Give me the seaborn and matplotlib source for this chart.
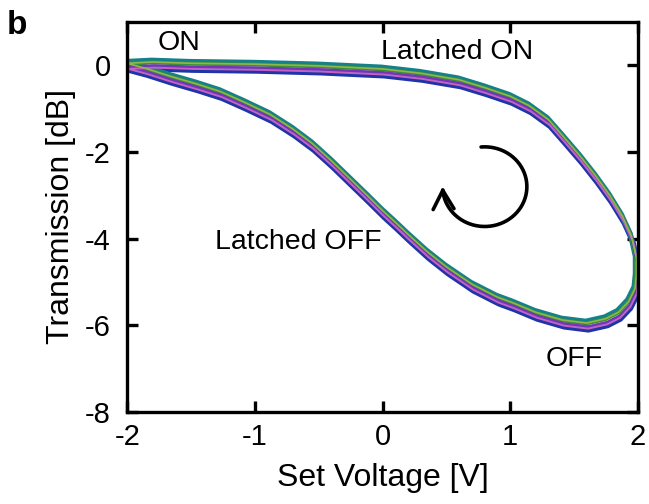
import numpy as np
import pandas as pd
import seaborn as sns
import matplotlib
matplotlib.use("Agg")
import matplotlib.pyplot as plt
from matplotlib.patches import FancyArrowPatch
from matplotlib.path import Path

# Hysteresis loop: upper branch swept -2 V -> +2 V, lower branch swept back
upper_v = [-2.00, -1.80, -1.50, -1.00, -0.50, 0.00, 0.30, 0.60, 0.80, 1.00, 1.15,
           1.30, 1.41, 1.55, 1.67, 1.78, 1.88, 1.95, 1.99]
upper_t = [0.00, 0.03, 0.00, -0.02, -0.06, -0.13, -0.23, -0.38, -0.56, -0.76, -0.98,
           -1.30, -1.67, -2.15, -2.60, -3.05, -3.53, -3.98, -4.50]
lower_v = [1.99, 1.98, 1.93, 1.85, 1.75, 1.60, 1.41, 1.20, 1.02, 0.90, 0.70, 0.50,
           0.35, 0.20, 0.10, 0.00, -0.12, -0.26, -0.40, -0.55, -0.70, -0.88, -1.08,
           -1.27, -1.45, -1.66, -1.85, -2.00]
lower_t = [-4.90, -5.20, -5.50, -5.75, -5.90, -6.00, -5.93, -5.75, -5.53, -5.40,
           -5.10, -4.70, -4.35, -3.95, -3.67, -3.40, -3.05, -2.65, -2.25, -1.85,
           -1.52, -1.18, -0.90, -0.65, -0.48, -0.30, -0.12, 0.00]

# Repeated sweeps: small shift of each cycle, its colour and line width
cycle_names = ["1", "2", "3", "4", "5", "6", "7"]
cycle_dv = [0.012, -0.010, -0.004, 0.006, 0.008, 0.010, -0.002]
cycle_dt = [-0.11, 0.09, 0.04, -0.05, -0.03, -0.08, 0.05]
cycle_colors = ["#1f34a6", "#16808a", "#3a8f3c", "#3444c0", "#7436b4", "#c462c4", "#8fb848"]
cycle_widths = [3.8, 3.8, 2.8, 2.2, 1.8, 1.4, 1.2]

loop_v = upper_v + lower_v
loop_t = upper_t + lower_t

rows = []
for name, dv, dt in zip(cycle_names, cycle_dv, cycle_dt):
    for i, (v, t) in enumerate(zip(loop_v, loop_t)):
        rows.append({"Set Voltage [V]": min(v + dv, 2.0), "Transmission [dB]": t + dt,
                     "cycle": name, "step": i})
df = pd.DataFrame(rows)

sns.set_theme(style="white")
plt.rcParams["font.family"] = ["Liberation Sans", "DejaVu Sans"]
plt.rcParams["text.color"] = "black"
plt.rcParams["axes.labelcolor"] = "black"
plt.rcParams["xtick.color"] = "black"
plt.rcParams["ytick.color"] = "black"

fig = plt.figure(figsize=(6.49, 5.04), dpi=100)
ax = fig.add_axes([0.196, 0.183, 0.787, 0.773])

for name, color, lw in zip(cycle_names, cycle_colors, cycle_widths):
    sns.lineplot(data=df[df["cycle"] == name], x="Set Voltage [V]", y="Transmission [dB]",
                 color=color, sort=False, estimator=None, linewidth=lw, ax=ax)

ax.set_xlim(-2, 2)
ax.set_ylim(-8, 1)
ax.set_xticks([-2, -1, 0, 1, 2])
ax.set_yticks([0, -2, -4, -6, -8])
ax.set_xticklabels(["-2", "-1", "0", "1", "2"])
ax.set_yticklabels(["0", "-2", "-4", "-6", "-8"])
ax.tick_params(direction="in", length=8, width=2.4, labelsize=21,
               top=True, right=True, bottom=True, left=True)
ax.tick_params(axis="x", pad=8)
ax.tick_params(axis="y", pad=12)
ax.set_xlabel("Set Voltage [V]", fontsize=23, labelpad=9)
ax.set_ylabel("Transmission [dB]", fontsize=23, labelpad=6)
for s in ax.spines.values():
    s.set_linewidth(2.4)
    s.set_color("black")

ax.text(-1.59, 0.53, "ON", fontsize=20.5, ha="center", va="center")
ax.text(0.58, 0.30, "Latched ON", fontsize=20.5, ha="center", va="center")
ax.text(-0.66, -4.07, "Latched OFF", fontsize=20.5, ha="center", va="center")
ax.text(1.50, -6.79, "OFF", fontsize=20.5, ha="center", va="center")

# Curved arrow showing the sweep direction
cx, cy, rx, ry = 0.80, -2.80, 0.33, 0.92
ang = np.deg2rad(np.linspace(95, -180, 60))
verts = np.column_stack([cx + rx * np.cos(ang), cy + ry * np.sin(ang)])
arrow = FancyArrowPatch(path=Path(verts), arrowstyle="->,head_length=9,head_width=5",
                        color="black", linewidth=2.6, mutation_scale=1.5)
ax.add_patch(arrow)

fig.text(0.026, 0.95, "b", fontsize=24, fontweight="bold", ha="center", va="center")

fig.savefig("out.png", dpi=100)
